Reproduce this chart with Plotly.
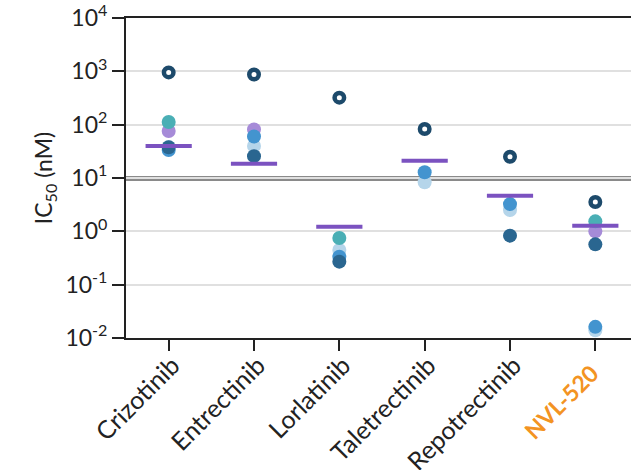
import plotly.graph_objects as go

drugs = ["Crizotinib", "Entrectinib", "Lorlatinib", "Taletrectinib", "Repotrectinib", "NVL-520"]
tick_labels = ["Crizotinib", "Entrectinib", "Lorlatinib", "Taletrectinib", "Repotrectinib",
               "<b><span style='color:#F39322;font-size:23px'>NVL-520\u00a0\u00a0</span></b>"]

light_blue = [38, 40, 0.447, 8.3, 2.5, 0.014]
lavender = [76, 81, None, None, None, 1.0]
teal = [112, None, 0.75, None, None, 1.54]
medium_blue = [33.5, 60, 0.335, 12.8, 3.24, 0.0162]
dark_blue = [37.6, 25.7, 0.27, None, 0.83, 0.57]
mean_bar = [40, 18.6, 1.22, 21, 4.66, 1.27]
open_circle = [955, 870, 321, 83, 25, 3.55]

y_tickvals = [0.01, 0.1, 1, 10, 100, 1000, 10000]
y_ticktext = ["10<sup>-2</sup>", "10<sup>-1</sup>", "10<sup>0</sup>", "10<sup>1</sup>",
              "10<sup>2</sup>", "10<sup>3</sup>", "10<sup>4</sup>"]
threshold_lines = [10.4, 9.2]

x_idx = list(range(len(drugs)))

fig = go.Figure()

def dots(vals, color):
    xs = [x for x, v in zip(x_idx, vals) if v is not None]
    ys = [v for v in vals if v is not None]
    fig.add_trace(go.Scatter(x=xs, y=ys, mode="markers",
                             marker=dict(size=14, color=color, line=dict(width=0)),
                             showlegend=False, hoverinfo="y"))

dots(light_blue, "#B5D5EA")
dots(lavender, "#A68BD8")
dots(teal, "#4AAFB5")
dots(medium_blue, "#4394CF")
dots(dark_blue, "#2A6690")

fig.add_trace(go.Scatter(x=x_idx, y=mean_bar, mode="markers",
                         marker=dict(symbol="line-ew", size=33, line=dict(width=4, color="#7B52C0")),
                         showlegend=False))
fig.add_trace(go.Scatter(x=x_idx, y=open_circle, mode="markers",
                         marker=dict(symbol="circle", size=9.5, color="white",
                                     line=dict(width=4.5, color="#1D4A6B")),
                         showlegend=False))

for v in threshold_lines:
    fig.add_shape(type="line", xref="paper", x0=0, x1=1, yref="y", y0=v, y1=v,
                  line=dict(color="#8a8a8a", width=2), layer="below")

fig.update_layout(
    width=631, height=470,
    margin=dict(l=126, r=0, t=18, b=132),
    paper_bgcolor="white", plot_bgcolor="white",
    font=dict(family="Lato", size=23, color="#222222"),
)
fig.update_xaxes(
    range=[-0.5, 5.418], tickvals=x_idx, ticktext=tick_labels, tickangle=-45,
    showline=True, linewidth=2, linecolor="#222222", mirror=True,
    ticks="outside", ticklen=11, tickwidth=2, tickcolor="#222222",
    showgrid=False, zeroline=False, tickfont=dict(size=25), automargin=False,
    ticklabelstandoff=-10, ticklabelshift=4,
)
fig.update_yaxes(
    type="log", range=[-2, 4], tickvals=y_tickvals, ticktext=y_ticktext,
    showline=True, linewidth=2, linecolor="#222222",
    ticks="outside", ticklen=12, tickwidth=2, tickcolor="#222222",
    showgrid=True, gridcolor="#e0e0e0", gridwidth=1.5, zeroline=False,
    tickfont=dict(size=23), automargin=False,
    title=dict(text="IC<sub>50</sub> (nM)", font=dict(size=23), standoff=6),
)

fig.write_html("out.html")
